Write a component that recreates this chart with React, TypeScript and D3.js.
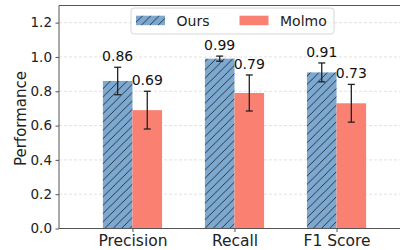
import { useRef, useEffect } from "react";
import * as d3 from "d3";

const categories = ["Precision", "Recall", "F1 Score"];
const oursValues = [0.86, 0.99, 0.91];
const oursErrors = [0.08, 0.015, 0.055];
const molmoValues = [0.69, 0.79, 0.73];
const molmoErrors = [0.11, 0.105, 0.11];
const yTicks = [0, 0.2, 0.4, 0.6, 0.8, 1.0, 1.2];
const seriesNames = ["Ours", "Molmo"];

const width = 400;
const height = 250;
const OURS_COLOR = "#7da8cf";
const MOLMO_COLOR = "#fa8072";
const FONT = "DejaVu Sans, sans-serif";

export default function App() {
  const ref = useRef<SVGSVGElement | null>(null);

  useEffect(() => {
    const svg = d3.select(ref.current);
    svg.selectAll("*").remove();

    const left = 59;
    const right = 410;
    const top = 5.5;
    const bottom = 228.5;
    const barW = 0.29;

    const x = d3.scaleLinear().domain([-0.72, 2.72]).range([left, right]);
    const y = d3.scaleLinear().domain([0, 1.3]).range([bottom, top]);

    // hatch pattern for "Ours"
    const step = 8.33;
    const pat = svg
      .append("defs")
      .append("pattern")
      .attr("id", "hatch")
      .attr("patternUnits", "userSpaceOnUse")
      .attr("width", step)
      .attr("height", step);
    pat.append("rect").attr("width", step).attr("height", step).attr("fill", OURS_COLOR);
    pat
      .append("path")
      .attr(
        "d",
        `M0,${step} L${step},0 M${-step / 2},${step / 2} L${step / 2},${-step / 2} M${step / 2},${step * 1.5} L${step * 1.5},${step / 2}`
      )
      .attr("stroke", "#1c2a38")
      .attr("stroke-width", 0.9);

    // grid
    svg
      .append("g")
      .selectAll("line")
      .data(yTicks.filter((t) => t > 0))
      .join("line")
      .attr("x1", left)
      .attr("x2", right)
      .attr("y1", (d) => y(d))
      .attr("y2", (d) => y(d))
      .attr("stroke", "#d9d9d9")
      .attr("stroke-width", 0.8)
      .attr("stroke-dasharray", "3,2");

    const groups = [
      { values: oursValues, errors: oursErrors, offset: -barW / 2, fill: "url(#hatch)" },
      { values: molmoValues, errors: molmoErrors, offset: barW / 2, fill: MOLMO_COLOR },
    ];

    groups.forEach((g) => {
      const data = categories.map((c, i) => ({ i, v: g.values[i], e: g.errors[i] }));
      svg
        .append("g")
        .selectAll("rect")
        .data(data)
        .join("rect")
        .attr("x", (d) => x(d.i + g.offset - barW / 2))
        .attr("width", (d) => x(d.i + g.offset + barW / 2) - x(d.i + g.offset - barW / 2))
        .attr("y", (d) => y(d.v))
        .attr("height", (d) => y(0) - y(d.v))
        .attr("fill", g.fill);

      const eb = svg.append("g").attr("stroke", "#222").attr("stroke-width", 1.3);
      data.forEach((d) => {
        const cx = x(d.i + g.offset);
        eb.append("line").attr("x1", cx).attr("x2", cx).attr("y1", y(d.v - d.e)).attr("y2", y(d.v + d.e));
        [d.v - d.e, d.v + d.e].forEach((yy) => {
          eb.append("line").attr("x1", cx - 3.5).attr("x2", cx + 3.5).attr("y1", y(yy)).attr("y2", y(yy));
        });
      });

      svg
        .append("g")
        .selectAll("text")
        .data(data)
        .join("text")
        .attr("x", (d) => x(d.i + g.offset))
        .attr("y", (d) => y(d.v + d.e) - 6)
        .attr("text-anchor", "middle")
        .attr("font-family", FONT)
        .attr("font-size", 14)
        .attr("fill", "#111")
        .text((d) => d.v.toFixed(2));
    });

    // spines
    svg.append("line").attr("x1", left).attr("x2", left).attr("y1", top).attr("y2", bottom).attr("stroke", "#555");
    svg.append("line").attr("x1", left).attr("x2", right).attr("y1", bottom).attr("y2", bottom).attr("stroke", "#555");
    svg.append("line").attr("x1", left).attr("x2", right).attr("y1", top).attr("y2", top).attr("stroke", "#555");

    // y axis
    const yAxis = svg
      .append("g")
      .attr("transform", `translate(${left},0)`)
      .call(d3.axisLeft(y).tickValues(yTicks).tickFormat(d3.format(".1f")).tickSize(3.5).tickPadding(3.5));
    yAxis.select(".domain").remove();
    yAxis.selectAll("line").attr("stroke", "#555");
    yAxis.selectAll("text").attr("font-family", FONT).attr("font-size", 13.5).attr("fill", "#222");

    // x axis
    const xAxis = svg
      .append("g")
      .attr("transform", `translate(0,${bottom})`)
      .call(
        d3
          .axisBottom(x)
          .tickValues(categories.map((_, i) => i))
          .tickFormat((d) => categories[d as number])
          .tickSize(3.5)
          .tickPadding(3)
      );
    xAxis.select(".domain").remove();
    xAxis.selectAll("line").attr("stroke", "#555");
    xAxis.selectAll("text").attr("font-family", FONT).attr("font-size", 15.5).attr("fill", "#222");

    // y label
    svg
      .append("text")
      .attr("transform", `translate(25.5,118.5) rotate(-90)`)
      .attr("text-anchor", "middle")
      .attr("font-family", FONT)
      .attr("font-size", 15)
      .attr("fill", "#222")
      .text("Performance");

    // legend
    const lg = svg.append("g");
    lg.append("rect")
      .attr("x", 131)
      .attr("y", 8)
      .attr("width", 203)
      .attr("height", 26)
      .attr("rx", 3)
      .attr("fill", "white")
      .attr("fill-opacity", 0.85)
      .attr("stroke", "#d6d6d6");
    const legendX = [136, 239.5];
    seriesNames.forEach((name, i) => {
      lg.append("rect")
        .attr("x", legendX[i])
        .attr("y", 15.7)
        .attr("width", 29)
        .attr("height", 9.5)
        .attr("fill", i === 0 ? "url(#hatch)" : MOLMO_COLOR);
      lg.append("text")
        .attr("x", legendX[i] + 40.5)
        .attr("y", 25.8)
        .attr("font-family", FONT)
        .attr("font-size", 14)
        .attr("fill", "#222")
        .text(name);
    });
  }, []);

  return (
    <svg
      ref={ref}
      width={width}
      height={height}
      style={{ position: "absolute", left: 0, top: 0, background: "white" }}
    />
  );
}
